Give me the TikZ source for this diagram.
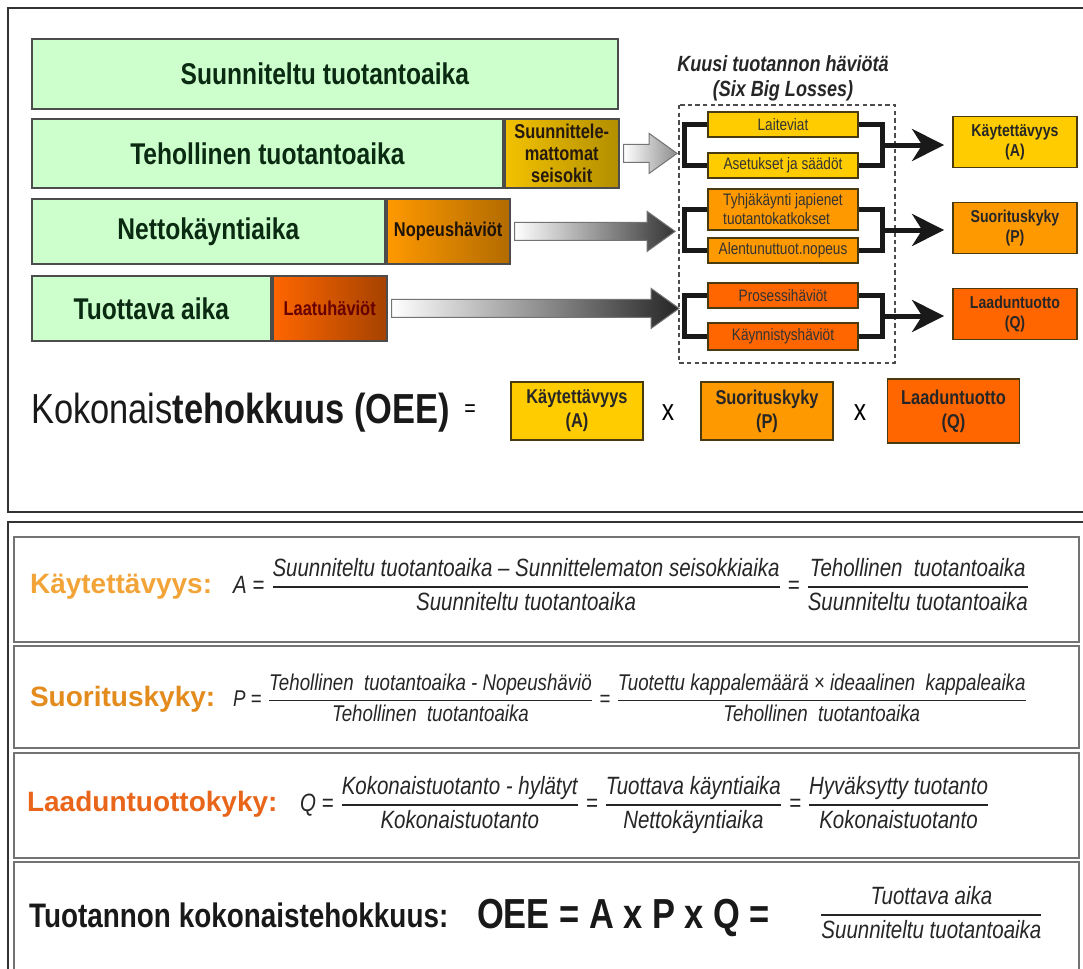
\documentclass[tikz,border=0pt]{standalone}
\usepackage{amsmath}
\usepackage{fontspec}
\setmainfont{Liberation Sans}[FakeStretch=0.82]
\newfontfamily\plainsans{Liberation Sans}
\usetikzlibrary{positioning,arrows.meta,calc}

\definecolor{barfill}{HTML}{CCFFCC}
\definecolor{bartext}{HTML}{0B2A12}
\definecolor{lossyellow}{HTML}{FFCC00}
\definecolor{lossorange}{HTML}{FF9900}
\definecolor{lossred}{HTML}{FF6600}
\definecolor{boxedge}{HTML}{4A3A10}
\definecolor{kaytcol}{HTML}{F2A438}
\definecolor{suorcol}{HTML}{E38B1C}
\definecolor{laatcol}{HTML}{E8651A}

%% gradient block arrow: start, end, dark colour
\newcommand\blockarrow[3]{%
  \shade[left color=white,right color=#3,draw=black!55,line width=0.5pt]
    let \p1=(#1), \p2=(#2) in
    (\x1,\y1+4.5pt) -- (\x2-14pt,\y1+4.5pt) -- (\x2-14pt,\y1+10pt) -- (\x2,\y1)
    -- (\x2-14pt,\y1-10pt) -- (\x2-14pt,\y1-4.5pt) -- (\x1,\y1-4.5pt) -- cycle;}
%% fraction with a visible bar
\newcommand\fracbox[2]{$\genfrac{}{}{0.7pt}{0}{\text{#1}}{\text{#2}}$}

\begin{document}
\begin{tikzpicture}
[x=0.5pt,y=-0.5pt,
 barstyle/.style={draw=black!70,line width=0.9pt,fill=barfill,text=bartext,
   font=\fontsize{15}{18}\selectfont\bfseries,inner sep=0pt,anchor=north west},
 lossbarstyle/.style={draw=black!70,line width=0.9pt,inner sep=0pt,align=center,
   font=\fontsize{10}{11}\selectfont\bfseries},
 sixstyle/.style={draw=boxedge,line width=0.9pt,minimum width=75pt,inner sep=1pt,
   align=left,text=black!80,font=\fontsize{8.3}{9.5}\selectfont},
 kpistyle/.style={draw=boxedge,line width=0.9pt,inner sep=0pt,align=center,
   text=black!85,font=\fontsize{8.6}{10}\selectfont\bfseries},
 bracketstyle/.style={line width=2.5pt,black!90},
 kpiarrow/.style={line width=2.5pt,black!90,
   -{Stealth[length=16pt,width=16pt,inset=5pt]},shorten >=4pt},
 framestyle/.style={line width=1.3pt,black!80},
 rowstyle/.style={line width=1.2pt,draw=black!55},
 rowlabel/.style={anchor=base west,font=\plainsans\fontsize{14}{17}\selectfont\bfseries},
 formula/.style={anchor=base west,text=black!85,font=\fontsize{12.5}{14}\selectfont\itshape}]
\useasboundingbox (0,0) rectangle (1083,969);

%% frames
\draw[framestyle] (1090,8) -- (8,8) -- (8,512) -- (1090,512);
\draw[framestyle] (1090,522) -- (8,522) -- (8,985);

%% time bars
\node[barstyle,minimum width=293pt,minimum height=35pt] (suun) at (31,38) {Suunniteltu tuotantoaika};
\node[barstyle,minimum width=235.5pt,minimum height=34.5pt] (teh) at (31,118) {Tehollinen tuotantoaika};
\node[lossbarstyle,minimum width=57pt,minimum height=34.5pt,left color=lossyellow!95!black,
  right color=lossyellow!70!black,text=black!80!brown,right=0pt of teh] (seis)
  {Suunnittele-\\mattomat\\seisokit};
\node[barstyle,minimum width=176.5pt,minimum height=32.5pt] (netto) at (31,198) {Nettokäyntiaika};
\node[lossbarstyle,minimum width=61.5pt,minimum height=32.5pt,left color=lossorange,
  right color=lossorange!70!black,text=black!85!brown,right=0pt of netto] (nopeus) {Nopeushäviöt};
\node[barstyle,minimum width=119.5pt,minimum height=32.5pt] (tuot) at (31,275) {Tuottava aika};
\node[lossbarstyle,minimum width=57pt,minimum height=32.5pt,left color=lossred,
  right color=lossred!65!black,text=red!40!black,right=0pt of tuot] (laatu) {Laatuhäviöt};

%% six big losses
\node[font=\fontsize{11}{12.5}\selectfont\bfseries\itshape,align=center,text=black!85]
  (kuusi) at (783,78) {Kuusi tuotannon häviötä\\(Six Big Losses)};
\draw[black!70,line width=0.6pt,dash pattern=on 2.2pt off 1.6pt] (679,105) rectangle (895,363);
\foreach \nodename/\ypos/\h/\col/\txt in {
  lait/124.5/12.5pt/lossyellow/Laiteviat, aset/165.5/12.5pt/lossyellow/Asetukset ja säädöt,
  tyhj/209.5/20.5pt/lossorange/{Tyhjäkäynti japienet\\tuotantokatkokset},
  alen/250.5/12.5pt/lossorange/Alentunuttuot.nopeus,
  pros/295.5/12.5pt/lossred/Prosessihäviöt, kayn/336.5/13.5pt/lossred/Käynnistyshäviöt} {
  \node[sixstyle,fill=\col,minimum height=\h] (\nodename) at (783,\ypos) {\txt};
}

%% key figures
\foreach \nodename/\ypos/\col/\txt/\ltr in {
  kA/142/lossyellow/Käytettävyys/A, kP/228/lossorange/Suorituskyky/P,
  kQ/314/lossred/Laaduntuotto/Q} {
  \node[kpistyle,fill=\col,minimum width=62pt,minimum height=25.5pt] (\nodename)
    at (1015,\ypos) {\txt\\(\ltr)};
}

%% brackets and arrows
\foreach \upper/\lower/\kpi in {lait/aset/kA, tyhj/alen/kP, pros/kayn/kQ} {
  \draw[bracketstyle] (\upper.west) -- ++(-23,0) |- (\lower.west);
  \draw[bracketstyle] (\upper.east) -- ++(24,0) |- (\lower.east);
  \coordinate (in\kpi) at ($(\upper.east)!0.5!(\lower.east)+(24,0)$);
  \draw[kpiarrow] (in\kpi) -- (in\kpi -| \kpi.west);
}
\blockarrow{$(seis.east)+(4,0)$}{$(lait.west)+(-30,0)$}{black!45}
\blockarrow{$(nopeus.east)+(4,0)$}{$(tyhj.west)+(-32,0)$}{black!80}
\blockarrow{$(laatu.east)+(4,0)$}{$(pros.west)+(-28,0)$}{black!85}

%% OEE line
\node[anchor=base west,font=\fontsize{21}{24}\selectfont,text=black!90] (oee) at (24,423)
  {Kokonais\textbf{tehokkuus (OEE)}};
\node[font=\fontsize{12}{14}\selectfont] (eq) at (470,411) {=};
\foreach \nodename/\xpos/\h/\col/\txt/\ltr in {
  oA/577/29pt/lossyellow/Käytettävyys/A, oP/767/29pt/lossorange/Suorituskyky/P,
  oQ/953.5/32pt/lossred/Laaduntuotto/Q} {
  \node[kpistyle,font=\fontsize{10}{12}\selectfont\bfseries,fill=\col,minimum width=66pt,
    minimum height=\h] (\nodename) at (\xpos,411) {\txt\\(\ltr)};
}
\node[font=\fontsize{15}{16}\selectfont] (x1) at (668,413) {x};
\node[font=\fontsize{15}{16}\selectfont] (x2) at (860,413) {x};

%% formulas
\foreach \top/\bot in {537/642,646/748,753/858,862/985}
  \draw[rowstyle] (14,\top) rectangle (1079,\bot);
\node[rowlabel,text=kaytcol] (lblA) at (23,593) {Käytettävyys:};
\node[formula] (frmA) at (226,593) {A =
  \fracbox{Suunniteltu tuotantoaika – Sunnittelematon seisokkiaika}{Suunniteltu tuotantoaika}
  = \fracbox{Tehollinen~~tuotantoaika}{Suunniteltu tuotantoaika}};
\node[rowlabel,text=suorcol] (lblP) at (23,706) {Suorituskyky:};
\node[formula,font=\fontsize{11.4}{13}\selectfont\itshape] (frmP) at (226,706) {P =
  \fracbox{Tehollinen~~tuotantoaika - Nopeushäviö}{Tehollinen~~tuotantoaika}
  = \fracbox{Tuotettu kappalemäärä × ideaalinen~~kappaleaika}{Tehollinen~~tuotantoaika}};
\node[rowlabel,text=laatcol] (lblQ) at (20,811) {Laaduntuottokyky:};
\node[formula] (frmQ) at (293,811) {Q =
  \fracbox{Kokonaistuotanto - hylätyt}{Kokonaistuotanto}
  = \fracbox{Tuottava käyntiaika}{Nettokäyntiaika}
  = \fracbox{Hyväksytty tuotanto}{Kokonaistuotanto}};
\node[anchor=base west,font=\fontsize{17}{20}\selectfont\bfseries,text=black!90] (lblT)
  at (22,927) {Tuotannon kokonaistehokkuus:};
\node[anchor=base west,font=\fontsize{21}{24}\selectfont\bfseries,text=black!90] (oeeeq)
  at (470,928) {OEE = A x P x Q =};
\node[formula] (frmT) at (812,921) {\fracbox{Tuottava aika}{Suunniteltu tuotantoaika}};
\end{tikzpicture}
\end{document}
